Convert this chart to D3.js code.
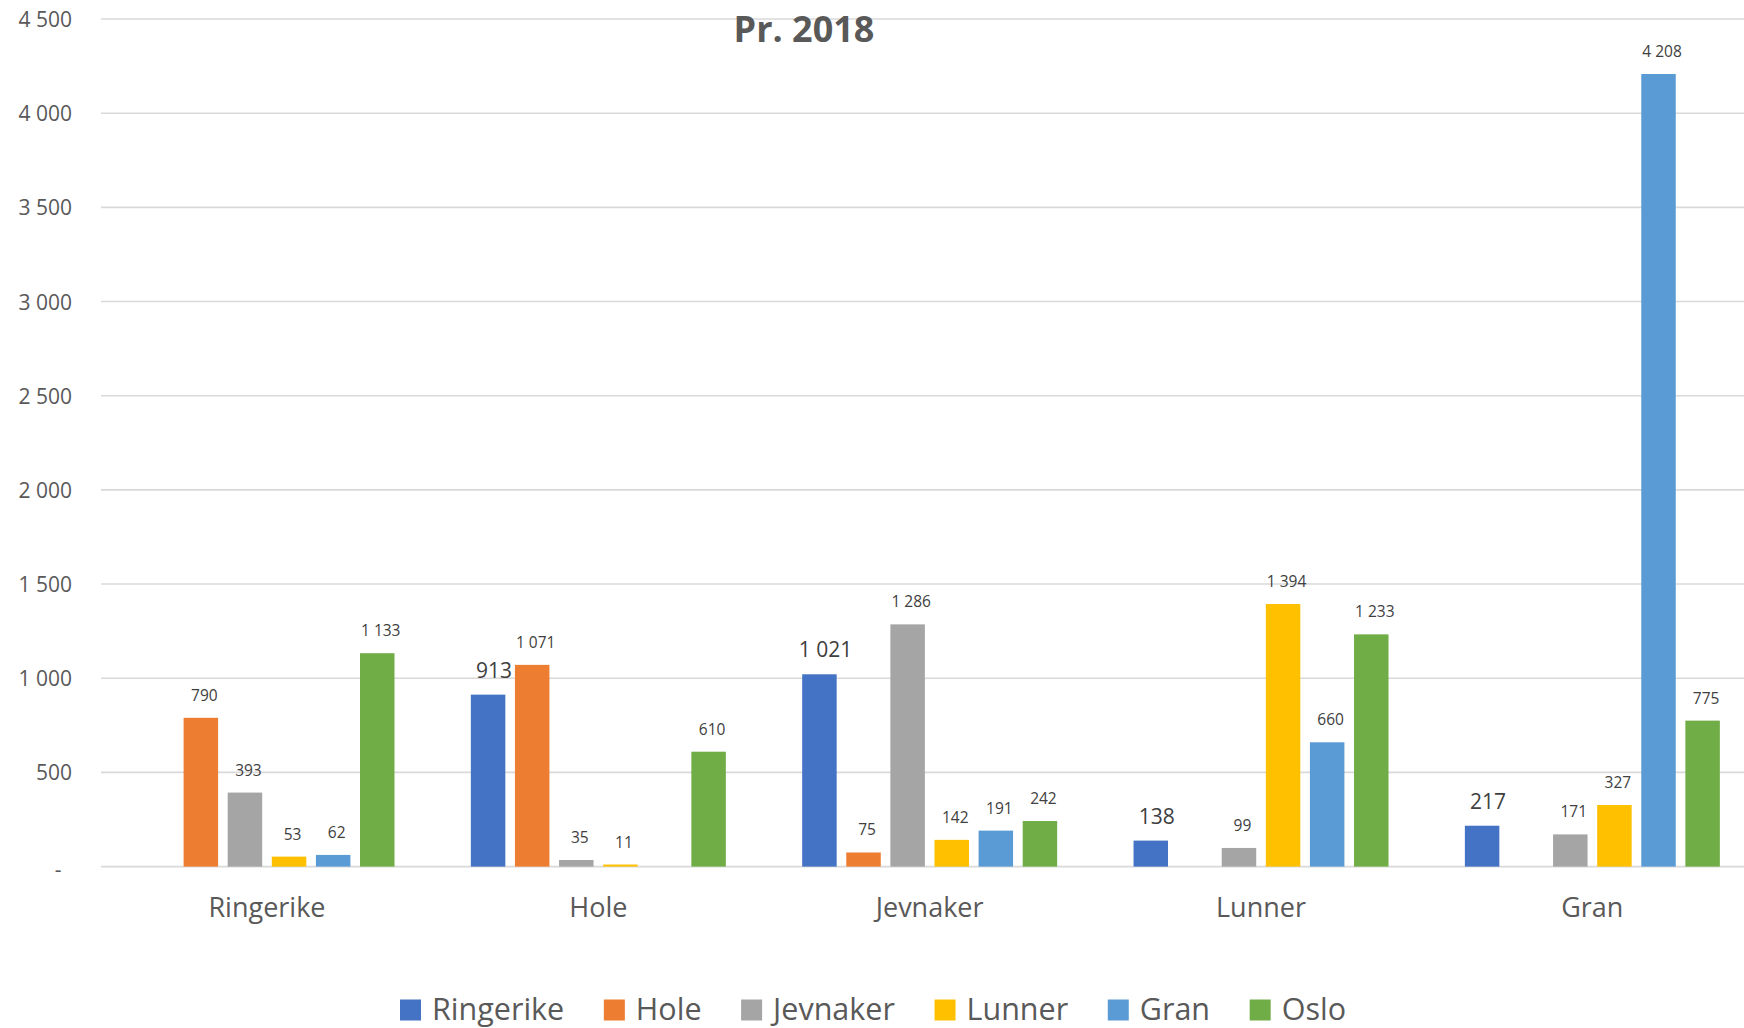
<!DOCTYPE html>
<html>
<head>
<meta charset="utf-8">
<script src="https://cdn.jsdelivr.net/npm/d3@7"></script>
<style>
  html, body { margin: 0; padding: 0; background: #ffffff; }
  svg { display: block; font-family: "Open Sans", sans-serif; }
</style>
</head>
<body>
<svg id="chart" width="1744" height="1028"></svg>
<script>
// Kommuner along the x axis (one cluster each)
const categories = ["Ringerike", "Hole", "Jevnaker", "Lunner", "Gran"];

// One series per kommune, values per cluster (null = no bar)
const seriesNames = ["Ringerike", "Hole", "Jevnaker", "Lunner", "Gran", "Oslo"];
const ringerike = [null, 913, 1021, 138, 217];
const hole      = [790, 1071, 75, null, null];
const jevnaker  = [393, 35, 1286, 99, 171];
const lunner    = [53, 11, 142, 1394, 327];
const gran      = [62, null, 191, 660, 4208];
const oslo      = [1133, 610, 242, 1233, 775];
const seriesValues = [ringerike, hole, jevnaker, lunner, gran, oslo];

const seriesColors = ["#4472C4", "#ED7D31", "#A5A5A5", "#FFC000", "#5B9BD5", "#70AD47"];

const yTicks = [0, 500, 1000, 1500, 2000, 2500, 3000, 3500, 4000, 4500];
const title = "Pr. 2018";

const svg = d3.select("#chart");

const nb = d3.formatLocale({ decimal: ",", thousands: "\u00a0", grouping: [3], currency: ["", ""] });
const fmt = nb.format(",d");

const y = d3.scaleLinear().domain([0, 4500]).range([866.6, 19]);
const x0 = d3.scaleBand().domain(categories).range([101.3, 1758]).padding(0);
const x1 = d3.scaleBand().domain(seriesNames)
  .range([33.4, 298]).paddingInner(0.218).paddingOuter(0.109);

// Gridlines
svg.append("g")
  .selectAll("line")
  .data(yTicks)
  .join("line")
  .attr("x1", 101).attr("x2", 1744)
  .attr("y1", d => y(d)).attr("y2", d => y(d))
  .attr("stroke", "#d9d9d9")
  .attr("stroke-width", 1.6);

// Y axis labels
const yAxis = svg.append("g")
  .attr("transform", "translate(72,0)")
  .call(d3.axisLeft(y).tickValues(yTicks).tickSize(0).tickPadding(0)
    .tickFormat(d => d === 0 ? "-" : fmt(d)));
yAxis.select(".domain").remove();
yAxis.selectAll("text")
  .attr("fill", "#595959")
  .attr("font-size", 21)
  .attr("font-family", "Open Sans")
  .attr("dy", "0.36em");
yAxis.selectAll(".tick").filter(d => d === 0).select("text")
  .attr("text-anchor", "middle").attr("x", -14).attr("dy", "0.45em");

// Title (drawn over the top gridline)
svg.append("text")
  .attr("x", 804).attr("y", 41.7)
  .attr("text-anchor", "middle")
  .attr("font-size", 36)
  .attr("font-weight", 700)
  .attr("fill", "#595959")
  .text(title);

// Bars and value labels
const rows = [];
categories.forEach((c, ci) => {
  seriesNames.forEach((s, si) => {
    const v = seriesValues[si][ci];
    if (v !== null) rows.push({ c, s, si, v });
  });
});

const groups = svg.append("g");
groups.selectAll("rect")
  .data(rows)
  .join("rect")
  .attr("x", d => x0(d.c) + x1(d.s))
  .attr("y", d => y(d.v))
  .attr("width", x1.bandwidth())
  .attr("height", d => y(0) - y(d.v))
  .attr("fill", d => seriesColors[d.si]);

groups.selectAll("text")
  .data(rows)
  .join("text")
  .attr("x", d => x0(d.c) + x1(d.s) + x1.bandwidth() / 2)
  .attr("dx", d => d.si === 0 ? 6 : 3.5)
  .attr("y", d => y(d.v) - 17)
  .attr("text-anchor", "middle")
  .attr("font-size", d => d.si === 0 ? 21 : 15.5)
  .attr("fill", "#404040")
  .text(d => fmt(d.v));

// Category labels
svg.append("g")
  .selectAll("text")
  .data(categories)
  .join("text")
  .attr("x", d => x0(d) + x0.bandwidth() / 2)
  .attr("y", 917.3)
  .attr("text-anchor", "middle")
  .attr("font-size", 27)
  .attr("fill", "#595959")
  .text(d => d);

// Legend, centred under the chart
const legend = svg.append("g");
const items = legend.selectAll("g")
  .data(seriesNames)
  .join("g");
items.append("rect")
  .attr("width", 21).attr("height", 21)
  .attr("y", 999.5)
  .attr("fill", (d, i) => seriesColors[i]);
items.append("text")
  .attr("x", 32)
  .attr("y", 1020)
  .attr("font-size", 30.5)
  .attr("fill", "#595959")
  .text(d => d);

const gap = 39.6;
let cursor = 0;
const widths = [];
items.each(function () {
  const w = d3.select(this).select("text").node().getComputedTextLength();
  widths.push(32 + w);
});
const total = d3.sum(widths) + gap * (widths.length - 1);
cursor = 873 - total / 2;
items.attr("transform", (d, i) => {
  const t = `translate(${cursor},0)`;
  cursor += widths[i] + gap;
  return t;
});
</script>
</body>
</html>
